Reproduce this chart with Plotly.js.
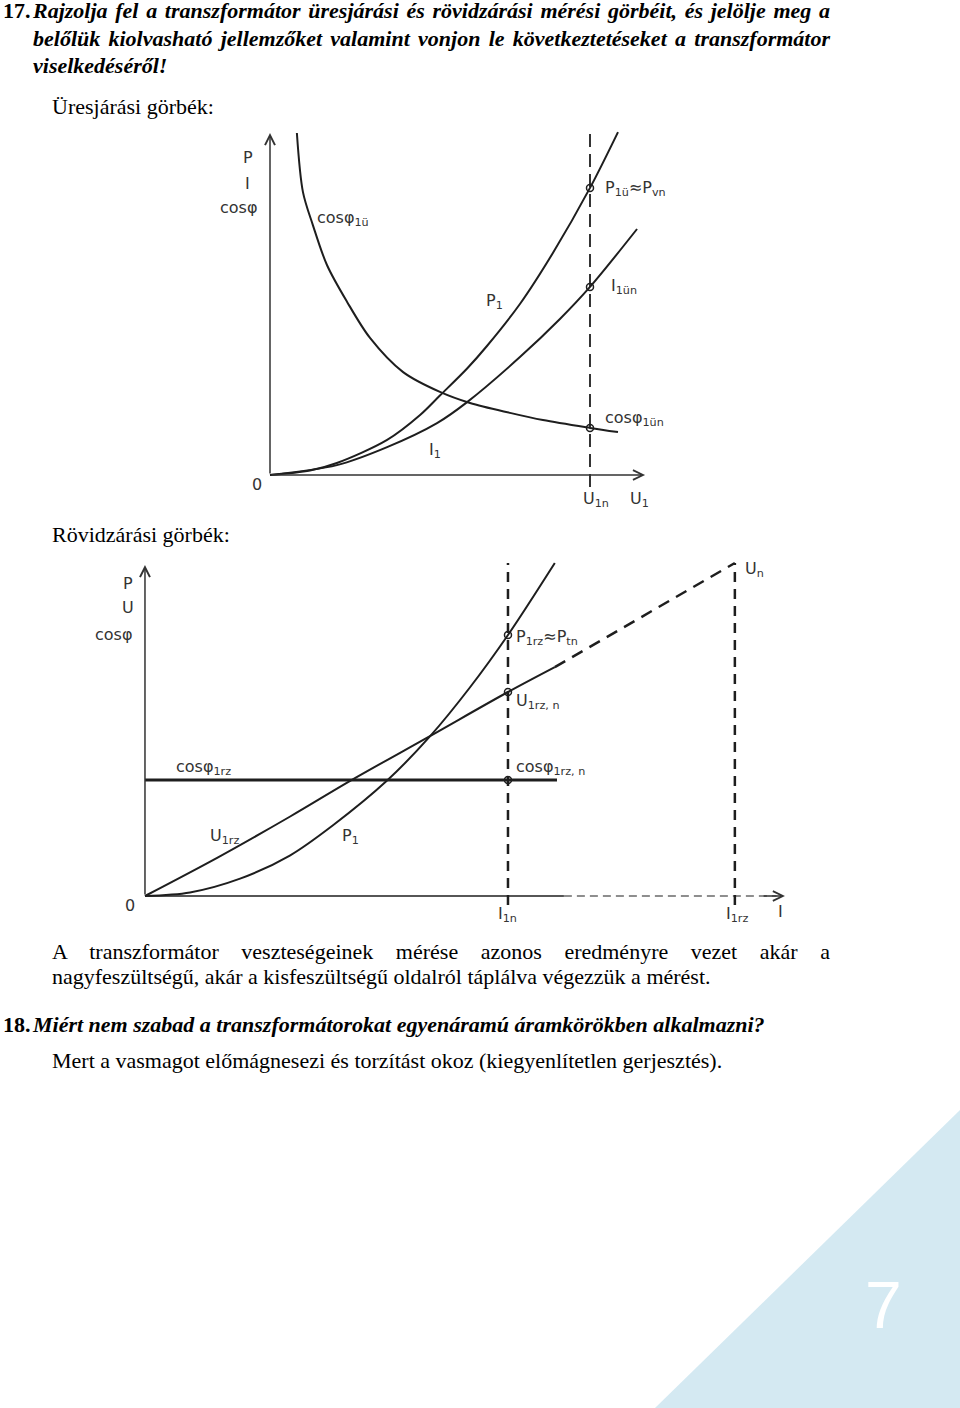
<!DOCTYPE html>
<html>
<head>
<meta charset="utf-8">
<script src="https://cdn.plot.ly/plotly-3.0.1.min.js"></script>
<style>
  html, body { margin:0; padding:0; background:#fff; }
  body { width:960px; height:1408px; position:relative; font-family:'Liberation Serif', serif; font-size:22px; }
  #plot { position:absolute; left:0; top:0; width:960px; height:1408px; }
  .t { position:absolute; font-family:'Liberation Serif', serif; font-size:22px; color:#000; white-space:nowrap; z-index:5; margin:0; }
  .bi { font-weight:bold; font-style:italic; }
  .b { font-weight:bold; }
  .just { text-align:justify; text-align-last:justify; white-space:normal; }
</style>
</head>
<body>
<div id="plot"></div>

<p class="t b" style="left:3px; top:-3px; font-size:22px; line-height:27px;">17.</p>
<p class="t bi just" style="left:33px; top:-3px; width:797px; font-size:22px; line-height:27px;">Rajzolja fel a transzformátor üresjárási és rövidzárási mérési görbéit, és jelölje meg a</p>
<p class="t bi just" style="left:33px; top:24.5px; width:797px; font-size:22px; line-height:27px;">belőlük kiolvasható jellemzőket valamint vonjon le következtetéseket a transzformátor</p>
<p class="t bi" style="left:33px; top:52px; font-size:22px; line-height:27px;">viselkedéséről!</p>

<p class="t" style="left:52px; top:93px; font-size:22px; line-height:27px;">Üresjárási görbék:</p>
<p class="t" style="left:52px; top:521px; font-size:22px; line-height:27px;">Rövidzárási görbék:</p>

<p class="t just" style="left:52px; top:938.5px; width:778px; font-size:22px; line-height:25px;">A transzformátor veszteségeinek mérése azonos eredményre vezet akár a</p>
<p class="t" style="left:52px; top:963.5px; font-size:22px; line-height:25px;">nagyfeszültségű, akár a kisfeszültségű oldalról táplálva végezzük a mérést.</p>

<p class="t b" style="left:3px; top:1011px; font-size:22px; line-height:27px;">18.</p>
<p class="t bi" style="left:33px; top:1011px; font-size:22px; line-height:27px;">Miért nem szabad a transzformátorokat egyenáramú áramkörökben alkalmazni?</p>
<p class="t" style="left:52px; top:1047px; font-size:22px; line-height:27px;">Mert a vasmagot előmágnesezi és torzítást okoz (kiegyenlítetlen gerjesztés).</p>

<script>
// ---------- Chart 1: üresjárási görbék (x: U1/U1n) ----------
const c1CosX = [0.084, 0.103, 0.134, 0.178, 0.241, 0.3125, 0.416, 0.531, 0.625, 0.75, 0.853, 1.0, 1.0875];
const c1CosY = [1.14, 0.943, 0.833, 0.70, 0.577, 0.457, 0.343, 0.277, 0.24, 0.207, 0.183, 0.157, 0.143];
const c1PX = [0, 0.125, 0.209, 0.366, 0.469, 0.531, 0.616, 0.678, 0.781, 0.884, 1.0, 1.0875];
const c1PY = [0, 0.015, 0.04, 0.117, 0.2, 0.265, 0.355, 0.43, 0.57, 0.74, 0.957, 1.143];
const c1IX = [0, 0.209, 0.366, 0.522, 0.616, 0.781, 0.906, 1.0, 1.147];
const c1IY = [0, 0.033, 0.093, 0.173, 0.243, 0.393, 0.52, 0.627, 0.82];
const c1NomX = [1, 1];
const c1NomY = [-0.04, 1.14];
const c1MarkX = [1, 1, 1];
const c1MarkY = [0.957, 0.627, 0.157];
const c1AxisTipX = 1.172;
const c1AxisTipY = 1.14;

// ---------- Chart 2: rövidzárási görbék (x: I1/I1n) ----------
const c2UX = [0, 0.2, 0.4, 0.57, 0.785, 1.0, 1.129];
const c2UY = [0, 0.128, 0.265, 0.387, 0.533, 0.68, 0.763];
const c2UextX = [1.129, 1.625];
const c2UextY = [0.763, 1.11];
const c2PX = [0, 0.124, 0.262, 0.399, 0.518, 0.667, 0.785, 0.895, 1.0, 1.129];
const c2PY = [0, 0.012, 0.058, 0.135, 0.236, 0.385, 0.532, 0.695, 0.87, 1.11];
const c2CosX = [0, 1.135];
const c2CosY = [0.387, 0.387];
const c2NomX = [1, 1];
const c2RzX = [1.625, 1.625];
const c2VertY = [-0.03, 1.11];
const c2MarkX = [1, 1, 1];
const c2MarkY = [0.87, 0.68, 0.387];
const c2AxisSolidX = [0, 1.154];
const c2AxisDashX = [1.154, 1.74];
const c2AxisY = [0, 0];
const c2AxisTipX = 1.763;
const c2AxisTipY = 1.103;

const ink = '#1e1e1e';
const lab = '#333';

function line(x, y, xa, ya, w, dash, shape) {
  return {x:x, y:y, xaxis:xa, yaxis:ya, mode:'lines', hoverinfo:'skip',
    line:{color:ink, width:w, dash:dash||'solid', shape:shape||'linear', smoothing:0.9}};
}
function marks(x, y, xa, ya) {
  return {x:x, y:y, xaxis:xa, yaxis:ya, mode:'markers', hoverinfo:'skip',
    marker:{symbol:'circle-open', size:7, color:ink, line:{width:1.5, color:ink}}};
}

const data = [
  line(c1CosX, c1CosY, 'x', 'y', 2, 'solid', 'spline'),
  line(c1PX, c1PY, 'x', 'y', 2, 'solid', 'spline'),
  line(c1IX, c1IY, 'x', 'y', 2, 'solid', 'spline'),
  line(c1NomX, c1NomY, 'x', 'y', 1.8, '13px,7px'),
  marks(c1MarkX, c1MarkY, 'x', 'y'),

  line(c2AxisSolidX, c2AxisY, 'x2', 'y2', 1.5),
  line(c2AxisDashX, c2AxisY, 'x2', 'y2', 1.2, '8px,5px'),
  line(c2UX, c2UY, 'x2', 'y2', 2, 'solid', 'spline'),
  line(c2UextX, c2UextY, 'x2', 'y2', 2.5, '12px,8px'),
  line(c2PX, c2PY, 'x2', 'y2', 2, 'solid', 'spline'),
  line(c2CosX, c2CosY, 'x2', 'y2', 3),
  line(c2NomX, c2VertY, 'x2', 'y2', 2.5, '10px,7px'),
  line(c2RzX, c2VertY, 'x2', 'y2', 2.5, '10px,7px'),
  marks(c2MarkX, c2MarkY, 'x2', 'y2')
];

function arrow(xa, ya, x, y, ax, ay) {
  return {xref:xa, yref:ya, axref:xa, ayref:ya, x:x, y:y, ax:ax, ay:ay, text:'',
    showarrow:true, arrowhead:5, arrowsize:1.3, arrowwidth:1.5, arrowcolor:'#333', standoff:0, startstandoff:0};
}
function lbl(xa, ya, x, y, text, anchor) {
  return {xref:xa, yref:ya, x:x, y:y, text:text, showarrow:false, xanchor:anchor||'center', yanchor:'middle',
    font:{family:'DejaVu Sans, Noto Sans, sans-serif', size:16, color:lab}};
}

const annotations = [
  arrow('x', 'y', 0, c1AxisTipY, 0, 0),
  arrow('x', 'y', c1AxisTipX, 0, 0, 0),
  arrow('x2', 'y2', 0, c2AxisTipY, 0, 0),
  arrow('x2', 'y2', c2AxisTipX, 0, 1.70, 0),

  lbl('x', 'y', -0.069, 1.057, 'P'),
  lbl('x', 'y', -0.069, 0.973, 'I'),
  lbl('x', 'y', -0.1, 0.89, 'cosφ'),
  lbl('x', 'y', -0.04, -0.033, '0'),
  lbl('x', 'y', 1.02, -0.08, 'U<sub>1n</sub>'),
  lbl('x', 'y', 1.155, -0.08, 'U<sub>1</sub>'),
  lbl('x', 'y', 0.228, 0.855, 'cosφ<sub>1ü</sub>'),
  lbl('x', 'y', 0.703, 0.577, 'P<sub>1</sub>'),
  lbl('x', 'y', 0.515, 0.083, 'I<sub>1</sub>'),
  lbl('x', 'y', 1.04, 0.955, 'P<sub>1ü</sub>≈P<sub>vn</sub>', 'left'),
  lbl('x', 'y', 1.06, 0.63, 'I<sub>1ün</sub>', 'left'),
  lbl('x', 'y', 1.04, 0.19, 'cosφ<sub>1ün</sub>', 'left'),

  lbl('x2', 'y2', -0.047, 1.043, 'P'),
  lbl('x2', 'y2', -0.047, 0.96, 'U'),
  lbl('x2', 'y2', -0.088, 0.87, 'cosφ'),
  lbl('x2', 'y2', -0.041, -0.033, '0'),
  lbl('x2', 'y2', 1.0, -0.063, 'I<sub>1n</sub>'),
  lbl('x2', 'y2', 1.63, -0.063, 'I<sub>1rz</sub>'),
  lbl('x2', 'y2', 1.752, -0.053, 'I'),
  lbl('x2', 'y2', 0.16, 0.43, 'cosφ<sub>1rz</sub>'),
  lbl('x2', 'y2', 0.218, 0.2, 'U<sub>1rz</sub>'),
  lbl('x2', 'y2', 0.567, 0.2, 'P<sub>1</sub>'),
  lbl('x2', 'y2', 1.017, 0.86, 'P<sub>1rz</sub>≈P<sub>tn</sub>', 'left'),
  lbl('x2', 'y2', 1.017, 0.647, 'U<sub>1rz, n</sub>', 'left'),
  lbl('x2', 'y2', 1.017, 0.43, 'cosφ<sub>1rz, n</sub>', 'left'),
  lbl('x2', 'y2', 1.647, 1.087, 'U<sub>n</sub>', 'left'),

  {xref:'paper', yref:'paper', x:0.9198, y:0.0732, text:'7', showarrow:false, xanchor:'center', yanchor:'middle',
   font:{family:'Liberation Sans, Arial, sans-serif', size:66, color:'#ffffff'}}
];

const hidden = {visible:false, fixedrange:true};
const layout = {
  width:960, height:1408,
  margin:{l:0, r:0, t:0, b:0},
  font:{family:'DejaVu Sans, sans-serif', size:16, color:lab},
  paper_bgcolor:'#ffffff', plot_bgcolor:'rgba(0,0,0,0)',
  showlegend:false,
  xaxis:Object.assign({domain:[200/960, 700/960], range:[-0.21875, 1.34375], anchor:'y'}, hidden),
  yaxis:Object.assign({domain:[1-520/1408, 1-120/1408], range:[-0.15, 1.18333], anchor:'x'}, hidden),
  xaxis2:Object.assign({domain:[80/960, 810/960], range:[-0.179, 1.832], anchor:'y2'}, hidden),
  yaxis2:Object.assign({domain:[1-930/1408, 1-550/1408], range:[-0.1133, 1.1533], anchor:'x2'}, hidden),
  shapes:[
    {type:'path', xref:'paper', yref:'paper', layer:'below',
     path:'M 0.6823 0 L 1 0 L 1 0.2116 Z', fillcolor:'#d4e9f2', line:{width:0}}
  ],
  annotations:annotations
};

Plotly.newPlot('plot', data, layout, {displayModeBar:false});
</script>
</body>
</html>
